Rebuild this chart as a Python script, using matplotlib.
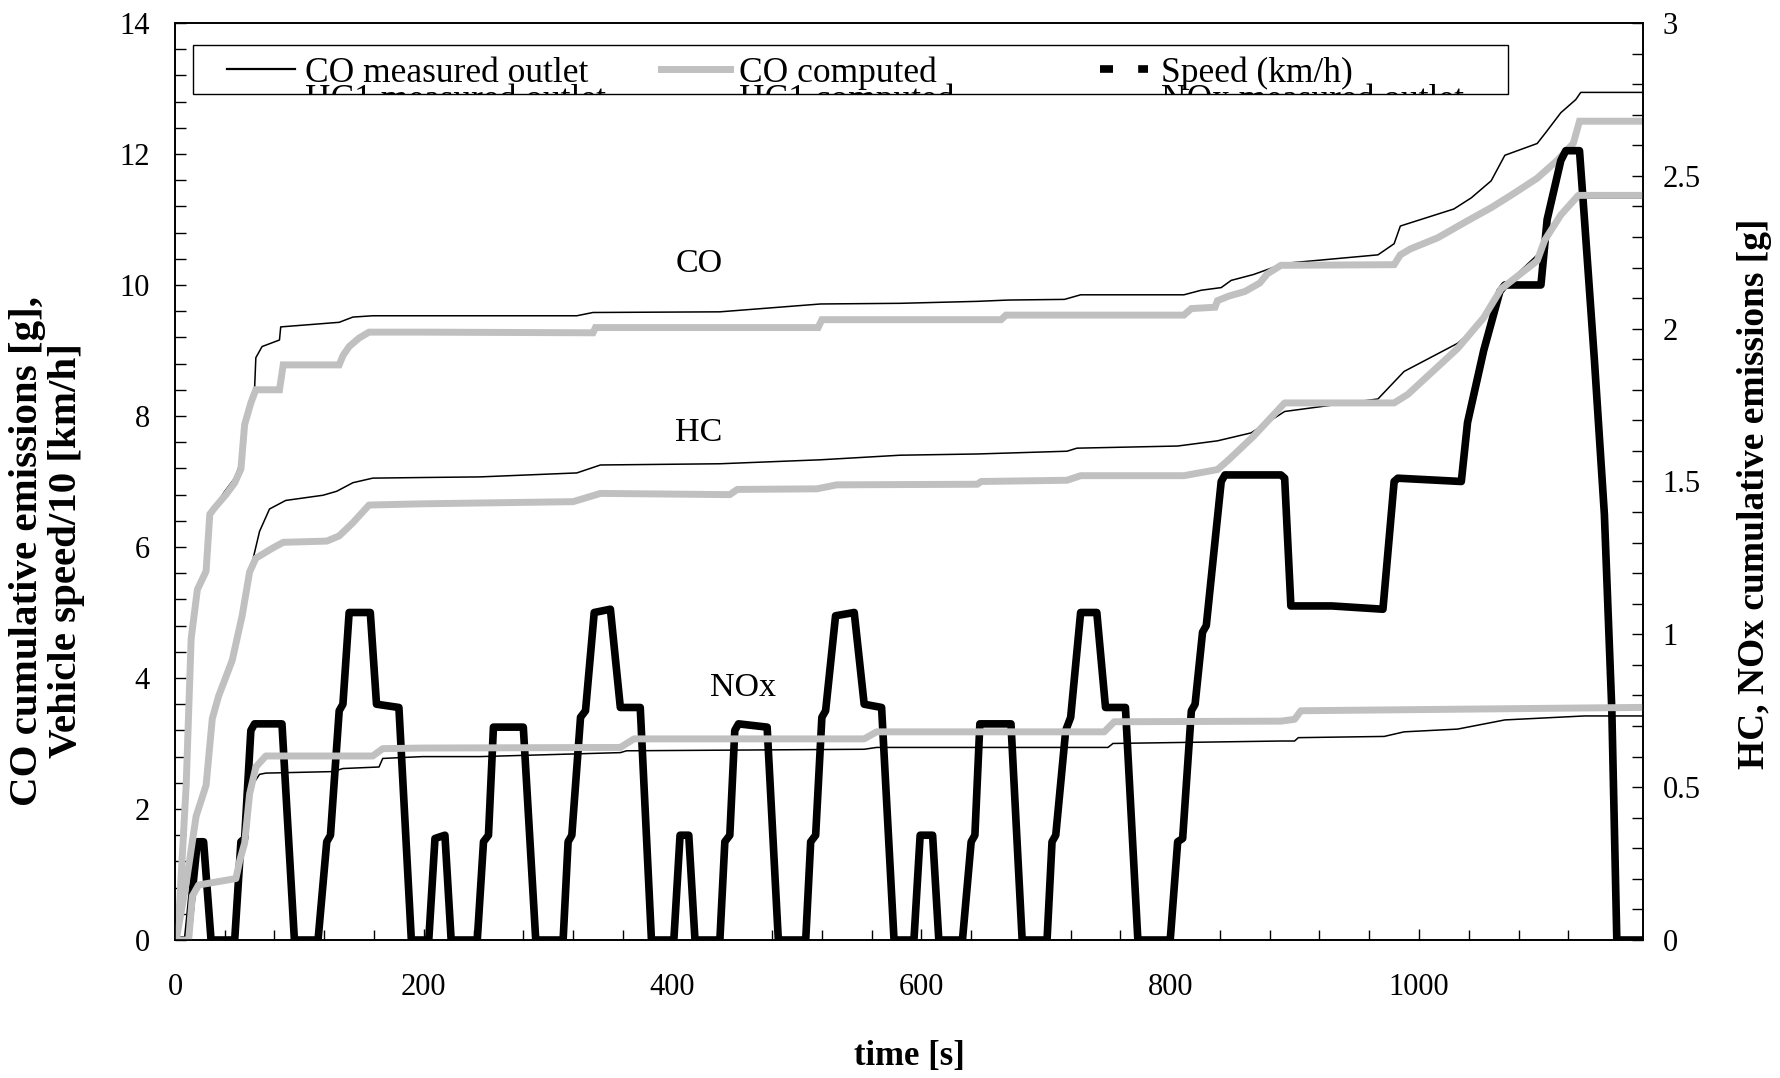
import matplotlib
matplotlib.use('Agg')
import matplotlib.pyplot as plt
from matplotlib.ticker import MultipleLocator, FuncFormatter
from matplotlib.transforms import Bbox, TransformedBbox
from matplotlib.patches import Rectangle

plt.rcParams['font.family'] = ['Liberation Serif', 'DejaVu Serif']

# ---- NEDC vehicle speed (km/h) ----
speed_t = [0, 10, 18, 23, 29, 48, 53, 56, 61, 64, 86, 96, 115, 122, 125, 132, 135, 140, 157, 162, 180, 190,
           204, 209, 217, 222, 243, 248, 252, 256, 280, 290, 312, 316, 319, 326, 330, 337, 350, 358, 374, 383,
           401, 406, 413, 418, 438, 442, 446, 450, 453, 476, 485, 507, 511, 515, 520, 523, 531, 546, 554, 568, 578,
           594, 599, 609, 614, 633, 640, 643, 647, 672, 681, 701, 705, 708, 716, 720, 728, 741, 748, 764, 774,
           800, 806, 810, 817, 820, 826, 829, 841, 844, 889, 892, 897, 930, 971, 980, 983, 1034, 1039, 1052,
           1065, 1069, 1098, 1103, 1114, 1118, 1129, 1133, 1141, 1149, 1155, 1159, 1180]
speed_kmh = [0, 0, 15, 15, 0, 0, 15, 15.5, 32, 33, 33, 0, 0, 15, 16, 35, 36, 50, 50, 36, 35.5, 0,
             0, 15.5, 16, 0, 0, 15, 16, 32.5, 32.5, 0, 0, 15, 16, 34, 35, 50, 50.5, 35.5, 35.5, 0,
             0, 16, 16, 0, 0, 15, 16, 32, 33, 32.5, 0, 0, 15, 16, 34, 35, 49.5, 50, 36, 35.5, 0,
             0, 16, 16, 0, 0, 15, 16, 33, 33, 0, 0, 15, 16, 32, 34, 50, 50, 35.5, 35.5, 0,
             0, 15, 15.5, 35, 36, 47, 48, 70, 71, 71, 70.5, 51, 51, 50.5, 70, 70.5, 70, 79, 90,
             99, 100, 100, 110, 119, 120.5, 120.5, 110, 88.5, 65, 35, 0, 0]

# ---- CO cumulative emissions (g) ----
co_meas_t = [0, 4, 9, 13, 18, 25, 28, 40, 48, 53, 56, 61, 64, 65, 70, 84, 85, 132, 143, 159, 323, 336,
             438, 519, 583, 645, 670, 715, 728, 811, 825, 841, 849, 867, 892, 967, 980, 985, 1028, 1042,
             1058, 1069, 1095, 1102, 1114, 1126, 1130, 1180]
co_meas = [0, 0.4, 2.5, 4.7, 5.4, 5.7, 6.5, 6.85, 7.05, 7.3, 7.95, 8.3, 8.42, 8.89, 9.06, 9.16, 9.36, 9.43,
           9.51, 9.53, 9.53, 9.58, 9.59, 9.71, 9.72, 9.75, 9.77, 9.78, 9.85, 9.85, 9.92, 9.96, 10.07, 10.16,
           10.33, 10.46, 10.63, 10.9, 11.16, 11.33, 11.59, 11.98, 12.16, 12.33, 12.63, 12.83, 12.94, 12.94]

co_comp_t = [0, 3, 9, 13, 18, 25, 28, 32, 41, 48, 53, 56, 61, 65, 84, 87, 132, 135, 140, 148, 156, 199,
             336, 338, 517, 520, 664, 668, 811, 817, 836, 838, 847, 860, 872, 878, 884, 889, 980, 985, 993,
             1015, 1039, 1058, 1074, 1095, 1111, 1124, 1129, 1180]
co_comp = [0, 0.3, 2.36, 4.6, 5.35, 5.63, 6.5, 6.6, 6.8, 6.98, 7.19, 7.87, 8.2, 8.4, 8.4, 8.78, 8.78, 8.92,
           9.06, 9.19, 9.28, 9.28, 9.27, 9.35, 9.35, 9.47, 9.47, 9.54, 9.54, 9.64, 9.66, 9.76, 9.83, 9.9,
           10.03, 10.17, 10.24, 10.3, 10.31, 10.46, 10.55, 10.72, 10.98, 11.18, 11.37, 11.63, 11.9, 12.16,
           12.5, 12.5]

# ---- HC cumulative emissions (g) ----
hc_meas_t = [0, 5, 9, 17, 25, 30, 35, 46, 54, 58, 62, 68, 76, 89, 119, 130, 143, 159, 199, 245, 323, 342,
             438, 519, 583, 645, 717, 725, 806, 838, 865, 892, 967, 988, 1031, 1052, 1066, 1095, 1106, 1120,
             1129, 1180]
hc_meas = [0, 0.064, 0.204, 0.418, 0.525, 0.739, 0.814, 0.932, 1.082, 1.157, 1.234, 1.337, 1.410, 1.438,
           1.455, 1.468, 1.496, 1.511, 1.513, 1.515, 1.528, 1.554, 1.558, 1.571, 1.586, 1.590, 1.599, 1.609,
           1.616, 1.633, 1.659, 1.729, 1.770, 1.860, 1.952, 2.027, 2.130, 2.241, 2.325, 2.391, 2.428, 2.428]

hc_comp_t = [0, 1, 9, 17, 25, 30, 35, 46, 54, 60, 65, 78, 87, 122, 132, 143, 156, 199, 320, 342, 446, 452,
             516, 532, 645, 648, 717, 728, 811, 838, 847, 867, 889, 892, 980, 991, 1031, 1052, 1066, 1095,
             1101, 1114, 1128, 1180]
hc_comp = [0, 0, 0.186, 0.405, 0.506, 0.724, 0.797, 0.915, 1.061, 1.204, 1.249, 1.281, 1.301, 1.305, 1.322,
           1.365, 1.423, 1.427, 1.434, 1.461, 1.457, 1.474, 1.476, 1.489, 1.491, 1.5, 1.504, 1.519, 1.519,
           1.539, 1.571, 1.648, 1.744, 1.757, 1.757, 1.785, 1.935, 2.036, 2.130, 2.222, 2.289, 2.372, 2.436,
           2.436]

# ---- NOx cumulative emissions (g) ----
nox_meas_t = [0, 10, 11, 14, 19, 49, 52, 56, 60, 62, 68, 73, 127, 135, 164, 167, 199, 245, 358, 363, 554,
              564, 750, 754, 889, 900, 903, 972, 988, 1031, 1069, 1133, 1180]
nox_meas = [0, 0, 0.064, 0.15, 0.18, 0.197, 0.246, 0.311, 0.45, 0.506, 0.542, 0.546, 0.551, 0.561, 0.566,
            0.594, 0.60, 0.60, 0.613, 0.619, 0.624, 0.63, 0.63, 0.643, 0.651, 0.651, 0.662, 0.666, 0.681,
            0.69, 0.72, 0.733, 0.733]

nox_comp_t = [0, 11, 14, 19, 49, 52, 56, 60, 65, 73, 159, 167, 199, 358, 369, 554, 564, 747, 755, 889,
              900, 905, 1180]
nox_comp = [0, 0, 0.144, 0.18, 0.201, 0.259, 0.317, 0.478, 0.566, 0.602, 0.602, 0.626, 0.628, 0.63, 0.658,
            0.658, 0.681, 0.681, 0.714, 0.716, 0.722, 0.75, 0.761]

legend_labels = ['CO measured outlet', 'CO computed', 'Speed (km/h)',
                 'HC1 measured outlet', 'HC1 computed', 'NOx measured outlet']

GREY = '#c0c0c0'

fig = plt.figure(figsize=(17.8, 10.78), dpi=100)
ax = fig.add_axes([0.0983, 0.128, 0.8247, 0.8507])
ax2 = ax.twinx()

# left axis: CO and speed/10
ax.plot(co_meas_t, co_meas, color='black', lw=1.1)
ax.plot(co_comp_t, co_comp, color=GREY, lw=5, solid_joinstyle='miter')
ax.plot(speed_t, [v / 10 for v in speed_kmh], color='black', lw=5.5)

# right axis: HC and NOx
ax2.plot(hc_meas_t, hc_meas, color='black', lw=1.1)
ax2.plot(hc_comp_t, hc_comp, color=GREY, lw=5)
ax2.plot(nox_meas_t, nox_meas, color='black', lw=1.1)
ax2.plot(nox_comp_t, nox_comp, color=GREY, lw=5)

ax.set_xlim(0, 1180)
ax.set_ylim(0, 14)
ax2.set_ylim(0, 3)

ax.xaxis.set_major_locator(MultipleLocator(200))
ax.xaxis.set_minor_locator(MultipleLocator(40))
ax.yaxis.set_major_locator(MultipleLocator(2))
ax.yaxis.set_minor_locator(MultipleLocator(0.4))
ax2.yaxis.set_major_locator(MultipleLocator(0.5))
ax2.yaxis.set_minor_locator(MultipleLocator(0.1))
ax2.yaxis.set_major_formatter(FuncFormatter(lambda v, _: '%g' % v))

ax.tick_params(axis='x', which='both', direction='in', labelsize=22, pad=24, width=1)
ax.tick_params(axis='x', which='major', length=8)
ax.tick_params(axis='x', which='minor', length=7)
ax.tick_params(axis='y', which='both', direction='in', labelsize=22, pad=18, width=1, length=8)
ax2.tick_params(axis='y', which='both', direction='in', labelsize=22, pad=14, width=1, length=8)

for a in (ax, ax2):
    for s in a.spines.values():
        s.set_linewidth(1.2)

# curve names
ax.text(421, 10.33, 'CO', ha='center', va='center', fontsize=24.5)
ax.text(421, 7.75, 'HC', ha='center', va='center', fontsize=24.5)
ax.text(457, 3.85, 'NOx', ha='center', va='center', fontsize=24.5)

# axis titles
fig.text(0.5107, 1 - 1056 / 1078, 'time [s]', ha='center', va='center',
         fontsize=25, fontweight='bold')
fig.text(0.0262, 0.489, 'CO cumulative emissions [g],\nVehicle speed/10 [km/h]',
         rotation=90, ha='center', va='center', multialignment='center',
         fontsize=29.5, fontweight='bold', linespacing=1.08)
fig.text(0.9854, 0.5417, 'HC, NOx cumulative emissions [g]', rotation=90,
         ha='center', va='center', fontsize=27, fontweight='bold')

# legend box (too short for its rows, so the second row is cut off)
lx0, lx1, ly0, ly1 = 0.0123, 0.908, 0.9226, 0.976
clip = TransformedBbox(Bbox([[lx0, ly0], [lx1, ly1]]), ax2.transAxes)
ax2.add_patch(Rectangle((lx0, ly0), lx1 - lx0, ly1 - ly0, transform=ax2.transAxes,
                        facecolor='white', edgecolor='black', lw=1.0, zorder=10))

cols = [(0.0354, 0.0815, 0.0885), (0.331, 0.378, 0.3845), (0.630, 0.663, 0.672)]
rows = [(0.9498, 0.9357), (0.9193, 0.9062)]
styles = [dict(color='black', lw=1.6), dict(color=GREY, lw=5),
          dict(color='black', lw=5.5, ls=(0, (1.7, 3.3)), solid_capstyle='butt', dash_capstyle='butt'),
          dict(color='black', lw=1.6), dict(color=GREY, lw=5), dict(color='black', lw=1.6)]
for i, label in enumerate(legend_labels):
    hx0, hx1, tx = cols[i % 3]
    hy, by = rows[i // 3]
    ln, = ax2.plot([hx0, hx1], [hy, hy], transform=ax2.transAxes, zorder=11, **styles[i])
    ln.set_clip_box(clip)
    t = ax2.text(tx, by, label, transform=ax2.transAxes, ha='left', va='baseline',
                 fontsize=25.5, zorder=12, clip_on=True)
    t.set_clip_box(clip)

fig.savefig('out.png', dpi=100)
